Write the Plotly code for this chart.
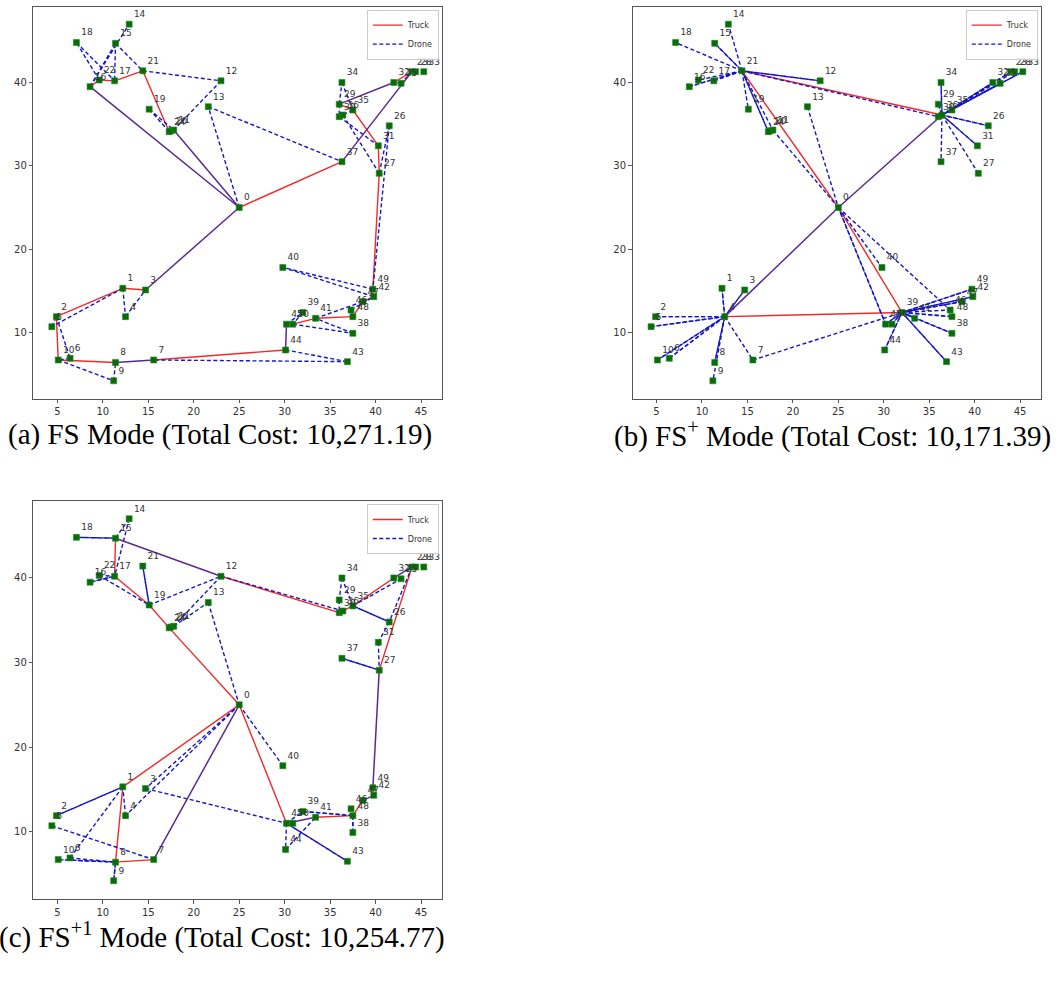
import plotly.graph_objects as go

# Node coordinates; list index is the node id (node 0 is the depot)
node_x = [25.0, 12.2, 4.9, 14.7, 12.5, 4.4, 6.4, 15.6, 11.4, 11.2,
          5.1, 17.8, 23.0, 21.6, 12.9, 11.4, 8.6, 11.3, 7.1, 15.1,
          17.5, 14.4, 9.6, 44.0, 17.3, 42.8, 41.5, 40.4, 44.4, 36.0,
          36.0, 40.3, 42.0, 45.3, 36.3, 37.5, 36.4, 36.3, 37.5, 32.0,
          29.8, 33.4, 39.8, 36.9, 30.1, 30.2, 37.3, 38.6, 37.5, 39.7,
          30.9]
node_y = [25.0, 15.3, 11.9, 15.1, 11.9, 10.7, 6.9, 6.7, 6.4, 4.2,
          6.7, 34.3, 40.2, 37.1, 47.0, 44.7, 39.5, 40.2, 44.8, 36.8,
          34.2, 41.4, 40.3, 41.3, 34.1, 39.9, 34.8, 29.1, 41.3, 37.4,
          35.9, 32.4, 40.0, 41.3, 40.0, 36.7, 36.1, 30.5, 9.9, 12.4,
          17.8, 11.7, 14.3, 6.5, 7.9, 11.0, 12.7, 13.7, 11.9, 15.2,
          11.0]
node_labels = [str(i) for i in range(len(node_x))]

x_ticks = [5, 10, 15, 20, 25, 30, 35, 40, 45]
y_ticks = [10, 20, 30, 40]

# ---- FS mode ----
fs_truck = [[0, 11, 24, 21, 17, 22, 16, 0],
            [0, 37, 23, 32, 29, 35, 31, 27, 49, 42, 47, 48, 41, 50, 45, 44,
             7, 8, 10, 2, 1, 3, 0]]
fs_drone = [(0, 11), (16, 0), (22, 18), (18, 17), (16, 14), (16, 15), (15, 17),
            (15, 21), (21, 12), (12, 11), (24, 19), (19, 11), (0, 13), (13, 37),
            (37, 23), (23, 25), (25, 32), (32, 29), (29, 34), (34, 35), (29, 30),
            (30, 31), (35, 36), (36, 27), (27, 26), (26, 49), (49, 40), (40, 42),
            (41, 47), (48, 46), (46, 42), (45, 39), (39, 50), (50, 38), (38, 41),
            (45, 44), (44, 43), (43, 7), (8, 7), (1, 4), (4, 3), (1, 5), (5, 2),
            (2, 6), (6, 10), (10, 9), (9, 8), (3, 0)]

# ---- FS+ mode ----
fsp_truck = [[0, 36, 21, 0, 39, 4, 0]]
fsp_drone = [(21, 18), (21, 14), (21, 15), (15, 21), (21, 17), (17, 21), (21, 16),
             (16, 21), (21, 22), (21, 19), (21, 24), (24, 21), (21, 11), (21, 12),
             (12, 21), (21, 30), (11, 0), (13, 0),
             (0, 36), (4, 0), (0, 45), (45, 0), (0, 40), (0, 46),
             (36, 34), (34, 36), (36, 29), (29, 36), (36, 35), (35, 36), (36, 32),
             (32, 36), (36, 25), (25, 36), (36, 23), (23, 36), (36, 28), (36, 33),
             (33, 36), (36, 26), (26, 36), (36, 31), (31, 36), (36, 37), (36, 27),
             (39, 49), (49, 39), (39, 42), (42, 39), (39, 47), (47, 39), (39, 46),
             (39, 48), (48, 39), (39, 41), (41, 39), (39, 38), (38, 39), (39, 43),
             (43, 39), (39, 44), (44, 39), (39, 45), (45, 39), (39, 50), (50, 39),
             (4, 1), (1, 4), (4, 3), (3, 4), (4, 2), (2, 4), (4, 5), (5, 4),
             (4, 10), (10, 4), (4, 6), (6, 4), (4, 8), (8, 4), (4, 9), (4, 7),
             (7, 39)]

# ---- FS+1 mode ----
fsp1_truck = [[0, 1, 8, 7, 0],
              [0, 24, 19, 17, 15, 12, 30, 35, 32, 23, 27, 49, 42, 47, 48, 41, 45, 0]]
fsp1_drone = [(15, 12), (12, 36), (14, 15), (14, 17), (18, 15), (15, 18), (16, 17),
              (17, 16), (22, 17), (22, 19), (21, 19), (19, 21), (19, 12), (12, 11),
              (13, 0), (11, 13), (34, 29), (34, 35), (29, 30), (35, 25), (32, 23),
              (35, 26), (26, 35), (23, 26), (26, 31), (31, 27), (37, 27), (27, 37),
              (27, 49), (42, 47), (39, 48), (48, 39), (45, 39), (45, 44), (44, 41),
              (45, 43), (43, 45), (48, 38), (38, 48), (0, 40), (3, 45), (0, 3),
              (0, 4), (4, 1), (1, 2), (2, 1), (1, 6), (5, 7), (10, 8), (8, 10),
              (6, 8), (8, 9), (9, 8), (7, 0), (41, 45)]

captions = ["(a) FS Mode (Total Cost: 10,271.19)",
            "(b) FS<sup>+</sup> Mode (Total Cost: 10,171.39)",
            "(c) FS<sup>+1</sup> Mode (Total Cost: 10,254.77)"]

TRUCK_C = "#f02a2a"
DRONE_C = "#1515c8"
BOTH_C = "#5a2a92"


def segments(pairs):
    xs, ys = [], []
    for a, b in pairs:
        xs += [node_x[a], node_x[b], None]
        ys += [node_y[a], node_y[b], None]
    return xs, ys


def route_pairs(routes):
    out = []
    for r in routes:
        out += list(zip(r[:-1], r[1:]))
    return out


panels = [
    dict(truck=fs_truck, drone=fs_drone, ax="", leg="legend",
         xd=[0.0313, 0.4154], yd=[0.5933, 0.9932]),
    dict(truck=fsp_truck, drone=fsp_drone, ax="2", leg="legend2",
         xd=[0.5945, 0.9784], yd=[0.5933, 0.9932]),
    dict(truck=fsp1_truck, drone=fsp1_drone, ax="3", leg="legend3",
         xd=[0.0313, 0.4154], yd=[0.0834, 0.4893]),
]

fig = go.Figure()
layout = {}
for p in panels:
    xa, ya = "x" + p["ax"], "y" + p["ax"]
    t_pairs = route_pairs(p["truck"])
    t_set = {frozenset(e) for e in t_pairs}
    d_set = {frozenset(e) for e in p["drone"]}
    shared = [e for e in t_pairs if frozenset(e) in d_set]
    t_only = [e for e in t_pairs if frozenset(e) not in d_set]
    d_only = [e for e in p["drone"] if frozenset(e) not in t_set]

    sx, sy = segments(t_only)
    fig.add_trace(go.Scatter(x=sx, y=sy, mode="lines", name="Truck",
                             line=dict(color=TRUCK_C, width=1.4),
                             xaxis=xa, yaxis=ya, legend=p["leg"],
                             hoverinfo="skip"))
    sx, sy = segments(d_only)
    fig.add_trace(go.Scatter(x=sx, y=sy, mode="lines", name="Drone",
                             line=dict(color=DRONE_C, width=1.4, dash="4px,2.5px"),
                             xaxis=xa, yaxis=ya, legend=p["leg"],
                             hoverinfo="skip"))
    sx, sy = segments(shared)
    fig.add_trace(go.Scatter(x=sx, y=sy, mode="lines", showlegend=False,
                             line=dict(color=BOTH_C, width=1.5),
                             xaxis=xa, yaxis=ya, hoverinfo="skip"))
    fig.add_trace(go.Scatter(x=node_x, y=node_y, mode="markers+text",
                             text=node_labels, textposition="top right",
                             textfont=dict(family="DejaVu Sans", size=9, color="#333333"),
                             marker=dict(symbol="square", size=6, color="#0b6b0b",
                                         line=dict(color="#1e8c1e", width=0.6)),
                             showlegend=False, xaxis=xa, yaxis=ya))

    axis_common = dict(showgrid=False, zeroline=False, showline=True, mirror=True,
                       linecolor="#555555", linewidth=1, ticks="outside",
                       ticklen=3.5, tickwidth=0.8, tickcolor="#555555",
                       tickfont=dict(family="DejaVu Sans", size=10, color="#333333"))
    layout["xaxis" + p["ax"]] = dict(axis_common, domain=p["xd"], range=[2.36, 47.3],
                                     tickvals=x_ticks, anchor=ya)
    layout["yaxis" + p["ax"]] = dict(axis_common, domain=p["yd"], range=[2.02, 49.1],
                                     tickvals=y_ticks, anchor=xa)
    layout[p["leg"]] = dict(x=p["xd"][1] - 0.003, y=p["yd"][1] - 0.003,
                            xanchor="right", yanchor="top", xref="paper", yref="paper",
                            bgcolor="rgba(255,255,255,0.9)", bordercolor="#cccccc",
                            borderwidth=1, itemwidth=30, tracegroupgap=0,
                            font=dict(family="DejaVu Sans", size=8, color="#333333"))

annotations = []
cap_pos = [(0.2068, 0.5566), (0.7820, 0.5566), (0.2086, 0.0459)]
for text, (cx, cy) in zip(captions, cap_pos):
    annotations.append(dict(text=text, x=cx, y=cy, xref="paper", yref="paper",
                            showarrow=False, xanchor="center", yanchor="middle",
                            font=dict(family="Liberation Serif", size=29, color="black")))

fig.update_layout(**layout)
fig.update_layout(width=1064, height=981, autosize=False,
                  margin=dict(l=0, r=0, t=0, b=0),
                  paper_bgcolor="white", plot_bgcolor="white",
                  annotations=annotations)

fig.write_html("out.html")
